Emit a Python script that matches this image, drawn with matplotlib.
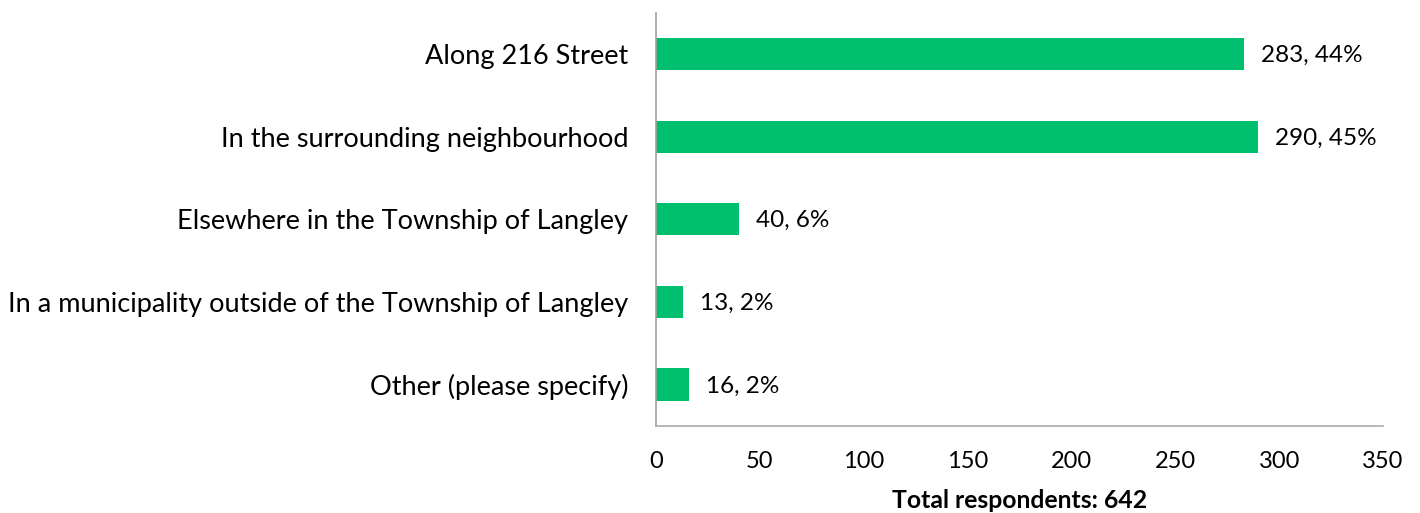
import matplotlib
matplotlib.use("Agg")
import matplotlib.pyplot as plt

categories = [
    "Along 216 Street",
    "In the surrounding neighbourhood",
    "Elsewhere in the Township of Langley",
    "In a municipality outside of the Township of Langley",
    "Other (please specify)",
]
counts = [283, 290, 40, 13, 16]
percents = ["44%", "45%", "6%", "2%", "2%"]
xticks = [0, 50, 100, 150, 200, 250, 300, 350]
total = 642

plt.rcParams['font.family'] = ['Lato', 'DejaVu Sans']

fig = plt.figure(figsize=(14.2, 5.13), dpi=100)
ax = fig.add_axes([0.462, 0.170, 0.512, 0.805])

pos = list(range(len(categories)))
ax.barh(pos, counts, height=0.39, color="#00BF6F")
for p, c, pc in zip(pos, counts, percents):
    ax.annotate("%d, %s" % (c, pc), (c, p), xytext=(12, -1), textcoords="offset points",
                va="center", ha="left", fontsize=17.5, color="#000000")

ax.set_ylim(4.5, -0.5)
ax.set_xlim(0, 350)
ax.set_yticks(pos)
ax.set_yticklabels(categories, fontsize=19.5)
ax.set_xticks(xticks)
ax.set_xticklabels([str(t) for t in xticks], fontsize=17)
ax.tick_params(axis="both", length=0)
ax.tick_params(axis="y", pad=20)
ax.tick_params(axis="x", pad=18.5)

ax.spines["top"].set_visible(False)
ax.spines["right"].set_visible(False)
ax.spines["left"].set_color("#A0A0A0")
ax.spines["bottom"].set_color("#ABABAB")
ax.spines["left"].set_linewidth(1.2)
ax.spines["bottom"].set_linewidth(1.2)

ax.set_xlabel("Total respondents: %d" % total, fontsize=17.8, fontweight="bold", labelpad=12)

fig.savefig("out.png", dpi=100)
